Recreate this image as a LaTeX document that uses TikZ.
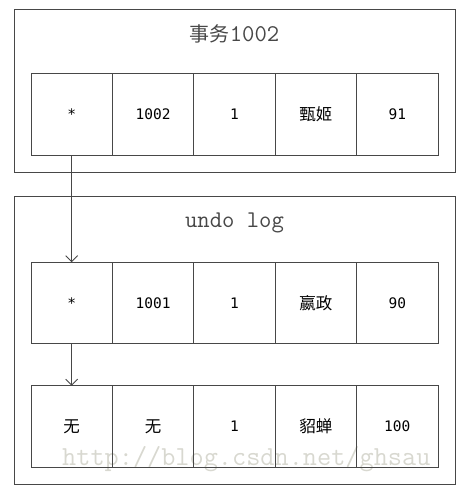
\documentclass[tikz,border=0pt]{standalone}
\usepackage{fontspec}
\newfontfamily\cjkfont{Noto Sans CJK SC}
\newfontfamily\cellfont{DejaVu Sans Mono}
\usetikzlibrary{positioning,arrows.meta}
\definecolor{frameGray}{HTML}{474747}
\definecolor{markGray}{HTML}{D8D8D0}

\begin{document}
\begin{tikzpicture}[x=1pt, y=-1pt,
    outerBox/.style={rectangle, draw=frameGray, line width=0.9pt, minimum width=441pt, inner sep=0pt, outer sep=0pt},
    cellBox/.style={rectangle, draw=frameGray, line width=0.9pt, minimum width=81.4pt, minimum height=81.5pt, inner sep=0pt, outer sep=0pt, font=\cellfont\fontsize{14.5}{17}\selectfont},
    cjkCell/.style={cellBox, font=\cjkfont\fontsize{16.5}{19}\selectfont},
    titleText/.style={font=\ttfamily\fontsize{24}{28}\selectfont, text=frameGray, inner sep=0pt},
    markText/.style={font=\ttfamily\fontsize{27.5}{32}\selectfont, text=markGray, anchor=base west, inner sep=0pt},
    linkArrow/.style={-{Straight Barb[length=6pt, width=12pt]}, draw=frameGray, line width=0.9pt}
]
    \useasboundingbox (0, 0) rectangle (470, 499);

    \node[markText] (watermark) at (62, 465) {http://blog.csdn.net/ghsau};

    \node[outerBox, minimum height=163pt] (trxBox) at (234.5, 90.5) {};
    \node[titleText] (trxTitle) at (234.5, 34) {{\cjkfont\fontsize{20}{24}\selectfont 事务}1002};

    \node[cellBox] (curPtr) at (71.7, 114.5) {*};
    \node[cellBox, right=0pt of curPtr] (curTrx) {1002};
    \node[cellBox, right=0pt of curTrx] (curId) {1};
    \node[cjkCell, right=0pt of curId] (curName) {甄姬};
    \node[cellBox, right=0pt of curName] (curScore) {91};

    \node[outerBox, minimum height=288pt] (undoBox) at (234.5, 340) {};
    \node[titleText] (undoTitle) at (234.5, 223) {undo log};

    \node[cellBox] (prevPtr) at (71.7, 303) {*};
    \node[cellBox, right=0pt of prevPtr] (prevTrx) {1001};
    \node[cellBox, right=0pt of prevTrx] (prevId) {1};
    \node[cjkCell, right=0pt of prevId] (prevName) {嬴政};
    \node[cellBox, right=0pt of prevName] (prevScore) {90};

    \node[cjkCell] (initPtr) at (71.7, 426.5) {无};
    \node[cjkCell, right=0pt of initPtr] (initTrx) {无};
    \node[cellBox, right=0pt of initTrx] (initId) {1};
    \node[cjkCell, right=0pt of initId] (initName) {貂蝉};
    \node[cellBox, right=0pt of initName] (initScore) {100};

    \draw[linkArrow] (curPtr.south) -- (prevPtr.north);
    \draw[linkArrow] (prevPtr.south) -- (initPtr.north);
\end{tikzpicture}
\end{document}
